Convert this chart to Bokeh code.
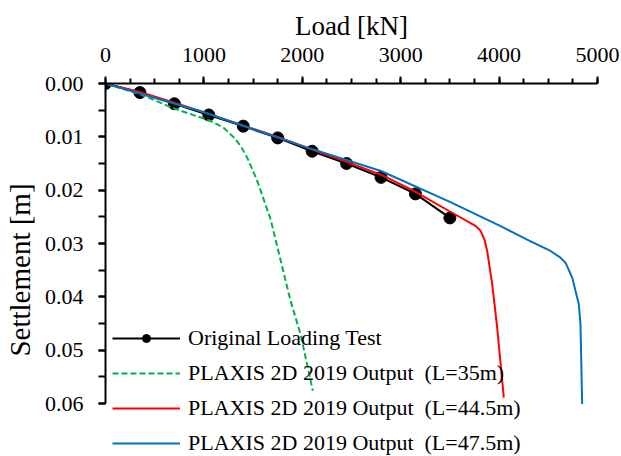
from bokeh.plotting import figure
from bokeh.models import (Range1d, SingleIntervalTicker, Legend, LegendItem,
                          PrintfTickFormatter)
from bokeh.embed import file_html
from bokeh.resources import INLINE

# ---- data ----
test_load = [0, 350, 700, 1050, 1400, 1750, 2100, 2450, 2800, 3150, 3500]
test_settle = [0.0, 0.0017, 0.0038, 0.0059, 0.0080, 0.0102, 0.0127, 0.0150,
               0.0176, 0.0207, 0.0252]

l35_load = [0, 350, 700, 1067, 1200, 1304, 1380, 1440, 1541, 1677, 1880,
            1982, 2107]
l35_settle = [0.0, 0.0020, 0.0047, 0.0070, 0.0083, 0.0101, 0.0119, 0.0139,
              0.0182, 0.0254, 0.0407, 0.0470, 0.0576]

l445_load = [0, 350, 700, 1050, 1400, 1750, 2100, 2450, 2800, 3150, 3500,
             3760, 3811, 3850, 3879, 3930, 3980, 4048]
l445_settle = [0.0, 0.0016, 0.0036, 0.0057, 0.0079, 0.0100, 0.0124, 0.0147,
               0.0171, 0.0203, 0.0240, 0.0267, 0.0276, 0.0292, 0.0314,
               0.0376, 0.0457, 0.0589]

l475_load = [0, 1000, 2000, 2800, 3500, 4000, 4300, 4522, 4620, 4675, 4743,
             4810, 4827, 4844]
l475_settle = [0.0, 0.0054, 0.0117, 0.0164, 0.0222, 0.0266, 0.0294, 0.0314,
               0.0326, 0.0336, 0.0364, 0.0414, 0.0451, 0.0601]

labels = ["Original Loading Test",
          "PLAXIS 2D 2019 Output  (L=35m)",
          "PLAXIS 2D 2019 Output  (L=44.5m)",
          "PLAXIS 2D 2019 Output  (L=47.5m)"]

x_max = 5000
y_axis_max = 0.06

FONT = "Liberation Serif"

W, H = 621, 456
BL, BR, BT = 105, 24, 83
AXIS_PX = 320  # pixel length of the 0..0.06 axis
# frame runs to the bottom of the figure so the legend (which sits below the
# 0.06 end of the axis in the reference) is not clipped
y_frame_end = y_axis_max * (H - BT) / AXIS_PX

p = figure(width=W, height=H,
           x_range=Range1d(0, x_max), y_range=Range1d(y_frame_end, 0.0),
           x_axis_location="above",
           output_backend="svg", toolbar_location=None,
           min_border_left=BL, min_border_right=BR,
           min_border_top=BT, min_border_bottom=0)

p.outline_line_color = None
p.xgrid.visible = False
p.ygrid.visible = False
p.background_fill_color = "white"
p.border_fill_color = "white"

# axes
p.xaxis.ticker = SingleIntervalTicker(interval=1000, num_minor_ticks=4)
p.yaxis.ticker = SingleIntervalTicker(interval=0.01, num_minor_ticks=2)
p.yaxis.formatter = PrintfTickFormatter(format="%.2f")
p.yaxis.bounds = (0, y_axis_max)
p.xaxis.axis_label = "Load [kN]"
p.yaxis.axis_label = "Settlement [m]"

for ax in (p.xaxis, p.yaxis):
    ax.axis_line_color = "black"
    ax.axis_line_width = 2
    ax.major_tick_line_color = "black"
    ax.major_tick_line_width = 2
    ax.minor_tick_line_color = "black"
    ax.minor_tick_line_width = 2
    ax.major_tick_in = 0
    ax.minor_tick_in = 0
    ax.major_tick_out = 7
    ax.major_label_text_font = FONT
    ax.major_label_text_font_size = "22px"
    ax.major_label_text_color = "black"
    ax.axis_label_text_font = FONT
    ax.axis_label_text_font_style = "normal"
    ax.axis_label_text_color = "black"

p.xaxis.minor_tick_out = 5
p.yaxis.minor_tick_out = 7
p.xaxis.major_label_standoff = 15
p.yaxis.major_label_standoff = 15
p.xaxis.axis_label_text_font_size = "27px"
p.yaxis.axis_label_text_font_size = "29px"
p.xaxis.axis_label_standoff = 4
p.yaxis.axis_label_standoff = 6

# series
r0l = p.line(test_load, test_settle, line_color="black", line_width=2)
r0s = p.scatter(test_load, test_settle, size=12, fill_color="black",
                line_color="black")
r1 = p.line(l35_load, l35_settle, line_color="#00B050", line_width=2,
            line_dash="6 3")
r2 = p.line(l445_load, l445_settle, line_color="#FF0000", line_width=2)
r3 = p.line(l475_load, l475_settle, line_color="#0070C0", line_width=2)

legend = Legend(items=[LegendItem(label=labels[0], renderers=[r0l, r0s]),
                       LegendItem(label=labels[1], renderers=[r1]),
                       LegendItem(label=labels[2], renderers=[r2]),
                       LegendItem(label=labels[3], renderers=[r3])],
                location=(7, 0))
legend.background_fill_alpha = 0
legend.border_line_color = None
legend.padding = 0
legend.margin = 0
legend.spacing = 9
legend.glyph_width = 68
legend.glyph_height = 20
legend.label_height = 20
legend.label_standoff = 8
legend.label_text_font = FONT
legend.label_text_font_size = "22px"
legend.label_text_color = "black"
legend.label_text_baseline = "middle"
p.add_layout(legend, "center")

open("out.html", "w").write(file_html(p, INLINE))
